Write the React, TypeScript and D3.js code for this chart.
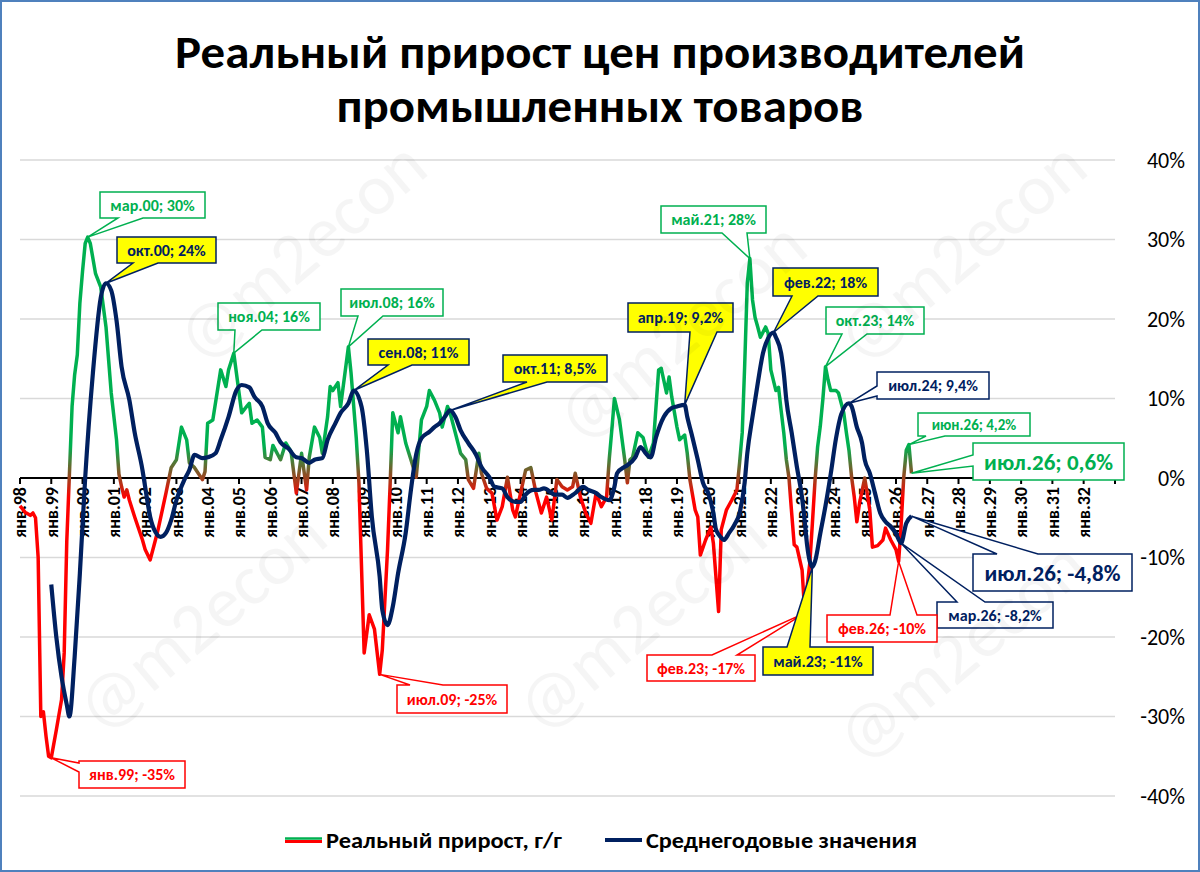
import * as d3 from "d3";

// реальный прирост цен производителей, г/г, %
const realGrowth: [string, number][] = [
  ["1998-01", -3.5], ["1998-03", -4.3], ["1998-05", -4.7], ["1998-06", -4.4], ["1998-07", -5.0],
  ["1998-08", -10.0], ["1998-09", -30.0], ["1998-10", -29.4], ["1998-11", -32.5], ["1998-12", -35.0],
  ["1999-01", -35.2], ["1999-03", -31.7], ["1999-05", -27.9], ["1999-06", -22.0], ["1999-07", -8.0],
  ["1999-08", 0.5], ["1999-09", 9.0], ["1999-10", 13.0], ["1999-11", 15.5], ["1999-12", 22.0],
  ["2000-01", 26.0], ["2000-02", 29.5], ["2000-03", 30.3], ["2000-04", 29.5], ["2000-06", 25.7],
  ["2000-08", 24.0], ["2000-10", 19.0], ["2000-12", 10.7], ["2001-02", 4.8], ["2001-03", 0.5],
  ["2001-04", -1.1], ["2001-05", -2.4], ["2001-06", -1.5], ["2001-07", -2.8], ["2001-09", -4.9],
  ["2001-12", -7.8], ["2002-01", -9.0], ["2002-03", -10.3], ["2002-05", -7.8], ["2002-06", -6.5],
  ["2002-09", -1.9], ["2002-11", 1.3], ["2003-01", 2.3], ["2003-03", 6.4], ["2003-05", 4.8],
  ["2003-06", 1.9], ["2003-08", 1.3], ["2003-11", -0.2], ["2003-12", 0.8], ["2004-01", 6.9],
  ["2004-03", 7.3], ["2004-06", 13.6], ["2004-08", 11.5], ["2004-09", 13.6], ["2004-11", 15.7],
  ["2005-02", 8.2], ["2005-04", 9.0], ["2005-05", 9.4], ["2005-06", 6.9], ["2005-08", 7.3],
  ["2005-10", 6.4], ["2005-11", 2.6], ["2006-01", 2.3], ["2006-02", 4.1], ["2006-05", 2.3],
  ["2006-07", 4.4], ["2006-09", 3.3], ["2006-11", -1.9], ["2007-01", 3.1], ["2007-03", -1.5],
  ["2007-04", 2.6], ["2007-06", 6.4], ["2007-08", 5.1], ["2007-09", 3.1], ["2007-11", 7.7],
  ["2007-12", 11.5], ["2008-01", 11.0], ["2008-03", 12.0], ["2008-04", 9.0], ["2008-07", 16.5],
  ["2008-08", 13.2], ["2008-10", 5.0], ["2008-11", -0.6], ["2009-01", -22.0], ["2009-03", -17.2],
  ["2009-05", -19.0], ["2009-07", -24.7], ["2009-08", -21.6], ["2009-10", -9.0], ["2009-11", -0.6],
  ["2009-12", 8.2], ["2010-02", 5.7], ["2010-03", 7.7], ["2010-05", 4.4], ["2010-07", 2.3],
  ["2010-09", 0.1], ["2010-11", 7.3], ["2011-01", 9.0], ["2011-02", 11.0], ["2011-04", 9.8],
  ["2011-06", 8.2], ["2011-07", 6.4], ["2011-09", 9.0], ["2011-10", 8.2], ["2011-12", 5.7],
  ["2012-02", 3.1], ["2012-04", 2.3], ["2012-05", -0.2], ["2012-07", -1.3], ["2012-09", 3.1],
  ["2012-10", 0.6], ["2012-12", -1.3], ["2013-02", -1.9], ["2013-04", -5.3], ["2013-06", -3.6],
  ["2013-08", 0.1], ["2013-10", -4.0], ["2013-11", -4.9], ["2014-01", -1.9], ["2014-03", 1.0],
  ["2014-05", 1.3], ["2014-07", -1.9], ["2014-09", -4.4], ["2014-11", -2.4], ["2015-01", -5.3],
  ["2015-03", -0.2], ["2015-05", -1.1], ["2015-07", -1.5], ["2015-09", -1.1], ["2015-10", 0.6],
  ["2015-12", -2.4], ["2016-02", -4.4], ["2016-04", -5.7], ["2016-06", -1.9], ["2016-08", -3.6],
  ["2016-10", -2.4], ["2016-11", 2.3], ["2016-12", 6.0], ["2017-01", 10.0], ["2017-03", 7.3],
  ["2017-05", 2.3], ["2017-06", -0.6], ["2017-07", 2.3], ["2017-08", 2.6], ["2017-10", 5.7],
  ["2017-12", 5.1], ["2018-02", 2.6], ["2018-04", 4.4], ["2018-06", 13.6], ["2018-07", 13.8],
  ["2018-09", 10.7], ["2018-10", 12.7], ["2018-11", 10.2], ["2019-01", 6.4], ["2019-02", 4.8],
  ["2019-04", 5.4], ["2019-05", 3.1], ["2019-06", -0.2], ["2019-08", -4.0], ["2019-09", -4.9],
  ["2019-10", -9.7], ["2019-12", -7.8], ["2020-02", -6.2], ["2020-03", -8.2], ["2020-05", -16.8],
  ["2020-06", -6.5], ["2020-08", -4.0], ["2020-10", -2.8], ["2020-12", -1.5], ["2021-01", 1.9],
  ["2021-02", 5.7], ["2021-03", 14.0], ["2021-04", 24.5], ["2021-05", 27.6], ["2021-06", 22.4],
  ["2021-07", 20.2], ["2021-08", 19.0], ["2021-09", 17.7], ["2021-11", 19.0], ["2021-12", 18.2],
  ["2022-01", 13.6], ["2022-03", 11.0], ["2022-04", 11.4], ["2022-05", 8.5], ["2022-06", 5.7],
  ["2022-07", 2.3], ["2022-08", 0.0], ["2022-09", -4.4], ["2022-10", -8.4], ["2022-11", -8.7],
  ["2023-01", -11.6], ["2023-02", -17.0], ["2023-03", -13.7], ["2023-04", -10.7], ["2023-05", -5.7],
  ["2023-06", -0.3], ["2023-07", 3.9], ["2023-08", 6.5], ["2023-09", 10.0], ["2023-10", 14.0],
  ["2023-11", 12.3], ["2023-12", 11.0], ["2024-02", 11.0], ["2024-03", 10.7], ["2024-05", 8.2],
  ["2024-06", 5.7], ["2024-07", 3.5], ["2024-08", 0.1], ["2024-09", -2.4], ["2024-10", -5.5],
  ["2024-11", -3.2], ["2025-01", 0.0], ["2025-03", -4.0], ["2025-04", -8.7], ["2025-06", -8.5],
  ["2025-08", -7.8], ["2025-09", -6.3], ["2025-11", -7.8], ["2026-01", -9.0], ["2026-02", -10.5],
  ["2026-03", -6.1], ["2026-04", 0.0], ["2026-05", 3.5], ["2026-06", 4.2], ["2026-07", 0.6],
];

// среднегодовые значения, %
const annualAvg: [string, number][] = [
  ["1999-01", -13.4], ["1999-03", -20.0], ["1999-05", -25.0], ["1999-07", -28.5], ["1999-08", -30.0],
  ["1999-10", -22.5], ["1999-12", -12.0], ["2000-02", 0.0], ["2000-05", 13.2], ["2000-08", 22.7],
  ["2000-10", 24.5], ["2000-12", 23.6], ["2001-02", 19.8], ["2001-04", 14.0], ["2001-07", 9.8],
  ["2001-09", 5.7], ["2001-12", 1.0], ["2002-01", -1.1], ["2002-03", -4.9], ["2002-05", -6.8],
  ["2002-07", -7.4], ["2002-09", -6.9], ["2002-11", -5.3], ["2003-01", -2.8], ["2003-04", -0.3],
  ["2003-06", 1.0], ["2003-08", 2.9], ["2003-11", 2.5], ["2004-01", 2.6], ["2004-04", 3.1],
  ["2004-06", 4.8], ["2004-09", 7.7], ["2004-12", 11.0], ["2005-02", 11.7], ["2005-05", 11.4],
  ["2005-07", 10.2], ["2005-10", 9.0], ["2005-12", 6.9], ["2006-03", 5.7], ["2006-05", 4.5],
  ["2006-08", 3.7], ["2006-11", 2.6], ["2007-01", 2.5], ["2007-04", 1.9], ["2007-06", 2.3],
  ["2007-09", 2.5], ["2007-11", 4.8], ["2008-02", 6.9], ["2008-04", 8.2], ["2008-07", 9.4],
  ["2008-09", 11.0], ["2008-12", 9.0], ["2009-02", 3.5], ["2009-04", -4.9], ["2009-07", -12.4],
  ["2009-08", -16.6], ["2009-10", -18.5], ["2009-12", -16.2], ["2010-02", -12.0], ["2010-05", -6.9],
  ["2010-07", -1.5], ["2010-09", 3.0], ["2010-11", 5.0], ["2011-02", 5.8], ["2011-04", 6.4],
  ["2011-06", 6.9], ["2011-08", 7.7], ["2011-10", 8.5], ["2011-12", 7.7], ["2012-02", 6.0],
  ["2012-05", 4.4], ["2012-08", 2.9], ["2012-10", 1.4], ["2013-01", 0.1], ["2013-03", -1.1],
  ["2013-06", -1.3], ["2013-08", -2.4], ["2013-11", -3.0], ["2014-01", -3.0], ["2014-03", -2.1],
  ["2014-06", -1.5], ["2014-08", -1.5], ["2014-10", -1.3], ["2015-01", -1.9], ["2015-02", -2.1],
  ["2015-05", -2.1], ["2015-07", -2.5], ["2015-10", -1.9], ["2016-01", -1.1], ["2016-03", -1.5],
  ["2016-06", -1.9], ["2016-08", -2.4], ["2016-11", -2.8], ["2017-01", -1.1], ["2017-02", 0.6],
  ["2017-05", 1.4], ["2017-06", 1.6], ["2017-09", 2.6], ["2017-11", 3.9], ["2018-01", 3.1],
  ["2018-03", 2.6], ["2018-05", 5.1], ["2018-08", 7.7], ["2018-11", 8.8], ["2019-01", 9.0],
  ["2019-04", 9.2], ["2019-05", 7.7], ["2019-07", 5.1], ["2019-09", 2.3], ["2019-11", -0.6],
  ["2020-01", -1.9], ["2020-03", -4.4], ["2020-04", -6.5], ["2020-06", -7.5], ["2020-07", -7.8],
  ["2020-09", -6.9], ["2020-11", -5.9], ["2021-01", -4.4], ["2021-03", -0.6], ["2021-04", 3.1],
  ["2021-06", 7.7], ["2021-08", 11.9], ["2021-10", 15.7], ["2021-12", 17.6], ["2022-02", 18.3],
  ["2022-03", 17.7], ["2022-05", 15.7], ["2022-06", 13.2], ["2022-07", 9.8], ["2022-09", 5.7],
  ["2022-11", 1.4], ["2023-01", -2.5], ["2023-02", -5.5], ["2023-03", -8.5], ["2023-04", -10.5],
  ["2023-05", -11.2], ["2023-06", -10.5], ["2023-08", -7.0], ["2023-10", -3.5], ["2023-12", 0.5],
  ["2024-02", 5.0], ["2024-04", 8.0], ["2024-07", 9.4], ["2024-08", 9.0], ["2024-10", 6.4],
  ["2024-12", 4.4], ["2025-01", 2.3], ["2025-03", 0.6], ["2025-05", -1.9], ["2025-07", -4.4],
  ["2025-09", -5.5], ["2025-11", -6.1], ["2026-01", -7.0], ["2026-03", -8.2], ["2026-05", -5.7],
  ["2026-07", -4.8],
];

const yTicks = [-40, -30, -20, -10, 0, 10, 20, 30, 40];
const firstYear = 1998;
const lastYear = 2033;

const titleLines = ["Реальный прирост цен производителей", "промышленных товаров"];
const legendLabels = ["Реальный прирост, г/г", "Среднегодовые значения"];

type Series = "real" | "avg";
type Look = "green" | "yellow" | "red" | "navy";
type Edge = "top" | "bottom" | "left";

// подписи: текст и точка, к которой ведёт выноска
const calloutPoints: { text: string; series: Series; month: string; look: Look }[] = [
  { text: "мар.00; 30%", series: "real", month: "2000-03", look: "green" },
  { text: "окт.00; 24%", series: "avg", month: "2000-10", look: "yellow" },
  { text: "ноя.04; 16%", series: "real", month: "2004-11", look: "green" },
  { text: "июл.08; 16%", series: "real", month: "2008-07", look: "green" },
  { text: "сен.08; 11%", series: "avg", month: "2008-09", look: "yellow" },
  { text: "окт.11; 8,5%", series: "avg", month: "2011-10", look: "yellow" },
  { text: "апр.19; 9,2%", series: "avg", month: "2019-04", look: "yellow" },
  { text: "май.21; 28%", series: "real", month: "2021-05", look: "green" },
  { text: "фев.22; 18%", series: "avg", month: "2022-02", look: "yellow" },
  { text: "окт.23; 14%", series: "real", month: "2023-10", look: "green" },
  { text: "июл.24; 9,4%", series: "avg", month: "2024-07", look: "navy" },
  { text: "июн.26; 4,2%", series: "real", month: "2026-06", look: "green" },
  { text: "июл.26; 0,6%", series: "real", month: "2026-07", look: "green" },
  { text: "июл.26; -4,8%", series: "avg", month: "2026-07", look: "navy" },
  { text: "мар.26; -8,2%", series: "avg", month: "2026-03", look: "navy" },
  { text: "фев.26; -10%", series: "real", month: "2026-02", look: "red" },
  { text: "фев.23; -17%", series: "real", month: "2023-02", look: "red" },
  { text: "май.23; -11%", series: "avg", month: "2023-05", look: "yellow" },
  { text: "июл.09; -25%", series: "real", month: "2009-07", look: "red" },
  { text: "янв.99; -35%", series: "real", month: "1999-01", look: "red" },
];

// где стоят рамки выносок (x, y, w, h), с какой стороны хвост, размер шрифта
const calloutBoxes: { box: [number, number, number, number]; edge: Edge; b1: number; b2: number; fs: number }[] = [
  { box: [100, 192, 105, 26], edge: "bottom", b1: 118, b2: 143, fs: 16 },
  { box: [117, 237, 99, 26], edge: "bottom", b1: 133, b2: 158, fs: 16 },
  { box: [218, 303, 102, 27], edge: "bottom", b1: 235, b2: 262, fs: 16 },
  { box: [341, 289, 102, 27], edge: "bottom", b1: 358, b2: 383, fs: 16 },
  { box: [368, 339, 101, 26], edge: "bottom", b1: 388, b2: 412, fs: 16 },
  { box: [503, 355, 104, 27], edge: "bottom", b1: 527, b2: 547, fs: 16 },
  { box: [628, 303, 105, 29], edge: "bottom", b1: 690, b2: 717, fs: 16 },
  { box: [661, 206, 105, 27], edge: "bottom", b1: 722, b2: 747, fs: 16 },
  { box: [773, 268, 105, 28], edge: "bottom", b1: 792, b2: 818, fs: 16 },
  { box: [826, 307, 98, 27], edge: "bottom", b1: 842, b2: 867, fs: 16 },
  { box: [877, 372, 112, 27], edge: "left", b1: 386, b2: 396, fs: 16 },
  { box: [918, 413, 112, 23], edge: "bottom", b1: 926, b2: 945, fs: 15 },
  { box: [973, 443, 151, 37], edge: "left", b1: 455, b2: 466, fs: 23 },
  { box: [973, 554, 159, 37], edge: "top", b1: 997, b2: 1038, fs: 23 },
  { box: [937, 602, 116, 26], edge: "top", b1: 957, b2: 985, fs: 16 },
  { box: [827, 615, 110, 27], edge: "top", b1: 890, b2: 917, fs: 16 },
  { box: [647, 655, 108, 26], edge: "top", b1: 712, b2: 737, fs: 16 },
  { box: [763, 647, 110, 28], edge: "top", b1: 787, b2: 810, fs: 16 },
  { box: [397, 685, 110, 28], edge: "top", b1: 410, b2: 443, fs: 16 },
  { box: [79, 761, 106, 27], edge: "left", b1: 763, b2: 772, fs: 16 },
];

const watermarks: [number, number][] = [
  [300, 250], [680, 330], [960, 250], [200, 620], [640, 620], [960, 650],
];

const GREEN = "#00b050";
const RED = "#ff0000";
const NAVY = "#002060";
const FONT = "Carlito, 'Liberation Sans', Arial, sans-serif";

const looks: Record<Look, { fill: string; stroke: string; color: string }> = {
  green: { fill: "#ffffff", stroke: GREEN, color: GREEN },
  yellow: { fill: "#ffff00", stroke: NAVY, color: NAVY },
  red: { fill: "#ffffff", stroke: RED, color: RED },
  navy: { fill: "#ffffff", stroke: NAVY, color: NAVY },
};

const W = 1200;
const H = 872;
const parse = d3.timeParse("%Y-%m");

function calloutPath(box: [number, number, number, number], edge: Edge, b1: number, b2: number, tx: number, ty: number) {
  const [x, y, w, h] = box;
  const r = x + w;
  const b = y + h;
  if (edge === "bottom") return `M${x},${y}H${r}V${b}H${b2}L${tx},${ty}L${b1},${b}H${x}Z`;
  if (edge === "top") return `M${x},${y}H${b1}L${tx},${ty}L${b2},${y}H${r}V${b}H${x}Z`;
  return `M${x},${y}H${r}V${b}H${x}V${b2}L${tx},${ty}L${x},${b1}Z`;
}

export default function App() {
  const x = d3
    .scaleTime()
    .domain([new Date(firstYear, 0, 1), new Date(lastYear, 0, 1)])
    .range([20, 1115]);
  const y = d3.scaleLinear().domain([-40, 40]).range([796, 160]);

  const real = realGrowth.map(([m, v]) => ({ d: parse(m)!, v }));
  const avg = annualAvg.map(([m, v]) => ({ d: parse(m)!, v }));

  const realLine = d3
    .line<{ d: Date; v: number }>()
    .x(p => x(p.d))
    .y(p => y(p.v));
  const avgLine = d3
    .line<{ d: Date; v: number }>()
    .x(p => x(p.d))
    .y(p => y(p.v))
    .curve(d3.curveMonotoneX);

  const years = d3.timeYear.range(new Date(firstYear, 0, 1), new Date(lastYear, 0, 2));
  const yy = d3.timeFormat("%y");

  const lookup = (s: Series, m: string) => {
    const arr = s === "real" ? realGrowth : annualAvg;
    const hit = arr.find(p => p[0] === m)!;
    return [x(parse(m)!), y(hit[1])];
  };

  return (
    <svg
      width={W}
      height={H}
      style={{ position: "absolute", left: 0, top: 0, background: "#fff" }}
      fontFamily={FONT}
    >
      <defs>
        <linearGradient id="realGrad" gradientUnits="userSpaceOnUse" x1={0} x2={0} y1={y(4)} y2={y(-2.5)}>
          <stop offset="0" stopColor={GREEN} />
          <stop offset="1" stopColor={RED} />
        </linearGradient>
      </defs>
      <rect x={0} y={0} width={W} height={H} fill="#fff" />

      {titleLines.map((t, i) => (
        <text
          key={t}
          x={600}
          y={68 + i * 54}
          textAnchor="middle"
          fontSize={47}
          fontWeight="bold"
          fill="#000"
          textLength={i === 0 ? 850 : 527}
          lengthAdjust="spacingAndGlyphs"
        >
          {t}
        </text>
      ))}

      {yTicks
        .filter(t => t !== 0)
        .map(t => (
          <line key={t} x1={20} x2={1115} y1={y(t)} y2={y(t)} stroke="#d9d9d9" strokeWidth={1.5} />
        ))}
      {yTicks.map(t => (
        <text key={t} x={1185} y={y(t)} dy="0.35em" textAnchor="end" fontSize={22} fill="#000">
          {`${t}%`}
        </text>
      ))}

      <line x1={20} x2={1115} y1={y(0)} y2={y(0)} stroke="#000" strokeWidth={2} />
      {years.map(d => (
        <line key={+d} x1={x(d)} x2={x(d)} y1={y(0)} y2={y(0) + 6} stroke="#000" strokeWidth={2} />
      ))}
      {years.slice(0, -1).map(d => (
        <text
          key={+d}
          transform={`translate(${x(d)},${y(0) + 9}) rotate(-90)`}
          dy="0.35em"
          textAnchor="end"
          fontSize={18}
          fontWeight="bold"
          fill="#000"
        >
          {`янв.${yy(d)}`}
        </text>
      ))}

      <path d={realLine(real)!} fill="none" stroke="url(#realGrad)" strokeWidth={3.5} strokeLinejoin="round" />
      <path d={avgLine(avg)!} fill="none" stroke={NAVY} strokeWidth={4.2} strokeLinejoin="round" />

      {calloutPoints.map((c, i) => {
        const lay = calloutBoxes[i];
        const [tx, ty] = lookup(c.series, c.month);
        const lk = looks[c.look];
        const [bx, by, bw, bh] = lay.box;
        return (
          <g key={c.text + i}>
            <path
              d={calloutPath(lay.box, lay.edge, lay.b1, lay.b2, tx, ty)}
              fill={lk.fill}
              stroke={lk.stroke}
              strokeWidth={1.5}
            />
            <text
              x={bx + bw / 2}
              y={by + bh / 2}
              dy="0.35em"
              textAnchor="middle"
              fontSize={lay.fs}
              fontWeight="bold"
              fill={lk.color}
            >
              {c.text}
            </text>
          </g>
        );
      })}

      <g fontSize={22} fontWeight="bold" fill="#000">
        <line x1={285} x2={322} y1={838.5} y2={838.5} stroke={GREEN} strokeWidth={2.5} />
        <line x1={285} x2={322} y1={841.5} y2={841.5} stroke={RED} strokeWidth={3} />
        <text x={326} y={840} dy="0.35em" textLength={236} lengthAdjust="spacingAndGlyphs">
          {legendLabels[0]}
        </text>
        <line x1={605} x2={642} y1={840} y2={840} stroke={NAVY} strokeWidth={4} />
        <text x={646} y={840} dy="0.35em" textLength={271} lengthAdjust="spacingAndGlyphs">
          {legendLabels[1]}
        </text>
      </g>

      {watermarks.map(([wx, wy], i) => (
        <text
          key={i}
          transform={`translate(${wx},${wy}) rotate(-40)`}
          textAnchor="middle"
          dy="0.35em"
          fontSize={72}
          fill="#000"
          opacity={0.035}
        >
          @m2econ
        </text>
      ))}

      <rect x={1} y={1} width={W - 2} height={H - 2} fill="none" stroke="#4f81bd" strokeWidth={2} />
    </svg>
  );
}
